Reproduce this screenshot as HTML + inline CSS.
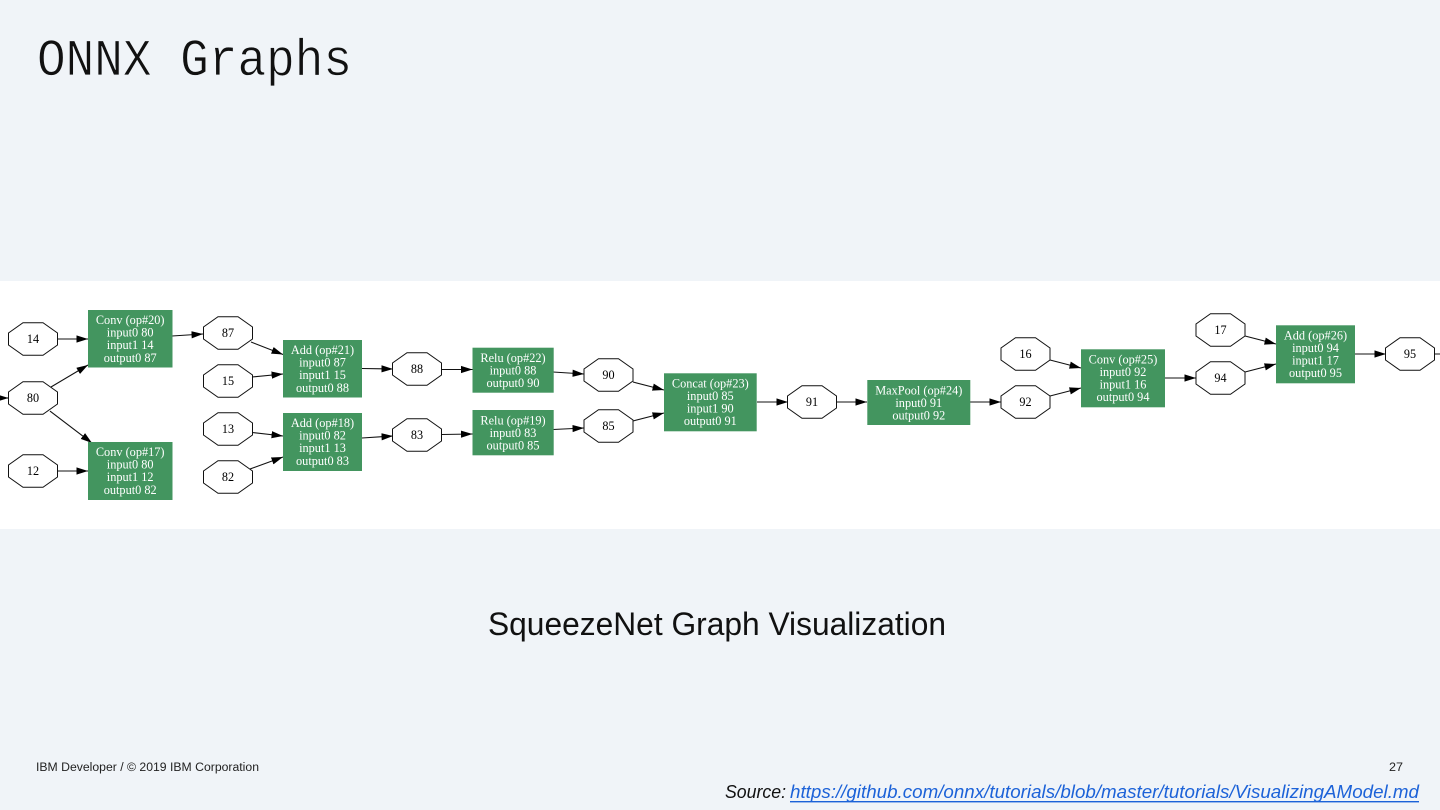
<!DOCTYPE html>
<html><head><meta charset="utf-8"><title>ONNX Graphs</title>
<style>
html,body{margin:0;padding:0;background:#f0f4f8;width:1440px;height:810px;overflow:hidden}
svg{display:block}
.n use{fill:#fff;stroke:#111;stroke-width:1}
.n text{font:12.2px "Liberation Serif",serif;fill:#000;text-anchor:middle}
.r rect{fill:#43955f}
.r text{font:12.3px "Liberation Serif",serif;fill:#fff;text-anchor:middle}
.e line{stroke:#111;stroke-width:1.1;marker-end:url(#a)}
.s{font-family:"Liberation Sans",sans-serif}
</style></head><body>
<svg width="1440" height="810" viewBox="0 0 1440 810" xmlns="http://www.w3.org/2000/svg">
<defs>
<marker id="a" markerUnits="userSpaceOnUse" markerWidth="13" markerHeight="9" refX="11.5" refY="4" orient="auto"><path d="M0 0.4L11.5 4L0 7.6Z" fill="#000"/></marker>
<polygon id="o" points="-10,-16.3 10,-16.3 24.5,-6 24.5,6 10,16.3 -10,16.3 -24.5,6 -24.5,-6"/>
</defs>
<rect width="1440" height="810" fill="#f0f4f8"/>
<rect y="281" width="1440" height="248" fill="#fff"/>
<text x="37" y="75" font-family="Liberation Mono" font-size="52" fill="#111" stroke="#f0f4f8" stroke-width="0.7" textLength="315" lengthAdjust="spacingAndGlyphs">ONNX Graphs</text>
<text class="s" x="488" y="635" font-size="32" fill="#111" textLength="458" lengthAdjust="spacingAndGlyphs">SqueezeNet Graph Visualization</text>
<text class="s" x="36" y="771" font-size="11.5" fill="#222" textLength="223" lengthAdjust="spacingAndGlyphs">IBM Developer / © 2019 IBM Corporation</text>
<text class="s" x="1389" y="771" font-size="11.5" fill="#222" textLength="14" lengthAdjust="spacingAndGlyphs">27</text>
<text class="s" x="725" y="798" font-size="18" font-style="italic" fill="#111" textLength="61" lengthAdjust="spacingAndGlyphs">Source:</text>
<text class="s" x="790" y="798" font-size="18" font-style="italic" fill="#1c62d8" textLength="629" lengthAdjust="spacingAndGlyphs">https://github.com/onnx/tutorials/blob/master/tutorials/VisualizingAModel.md</text>
<rect x="790" y="801" width="629" height="1.4" fill="#1c62d8"/>

<g class="e">
<line x1="0" y1="398" x2="8.5" y2="398"/>
<line x1="57" y1="339" x2="88" y2="339"/>
<line x1="51" y1="387" x2="88" y2="365"/>
<line x1="50" y1="411" x2="92" y2="443"/>
<line x1="57" y1="471" x2="88" y2="471"/>
<line x1="172" y1="336" x2="203" y2="334"/>
<line x1="251" y1="342" x2="283" y2="354.5"/>
<line x1="252" y1="377" x2="283" y2="374"/>
<line x1="252" y1="432.5" x2="283" y2="436"/>
<line x1="250" y1="469" x2="283" y2="457"/>
<line x1="362" y1="368.5" x2="393" y2="369"/>
<line x1="362" y1="438" x2="393" y2="436"/>
<line x1="442" y1="369.5" x2="472.5" y2="369.5"/>
<line x1="442" y1="434.5" x2="472.5" y2="434"/>
<line x1="553" y1="372" x2="584" y2="374"/>
<line x1="553" y1="429.5" x2="584" y2="428"/>
<line x1="633" y1="382" x2="664" y2="390"/>
<line x1="633" y1="421" x2="664" y2="413"/>
<line x1="757" y1="402" x2="788" y2="402"/>
<line x1="836" y1="402" x2="867" y2="402"/>
<line x1="970" y1="402" x2="1001" y2="402"/>
<line x1="1050" y1="360" x2="1081" y2="368"/>
<line x1="1050" y1="396" x2="1081" y2="388"/>
<line x1="1165" y1="378" x2="1196" y2="378"/>
<line x1="1245" y1="372" x2="1276" y2="364"/>
<line x1="1245" y1="336" x2="1276" y2="344"/>
<line x1="1355" y1="354" x2="1386" y2="354"/>
<line x1="1434" y1="354" x2="1452" y2="354"/>
</g>

<g class="n">
<use href="#o" x="33" y="339"/><text x="33" y="343">14</text>
<use href="#o" x="33" y="398"/><text x="33" y="402">80</text>
<use href="#o" x="33" y="471"/><text x="33" y="475">12</text>
<use href="#o" x="228" y="333"/><text x="228" y="337">87</text>
<use href="#o" x="228" y="381"/><text x="228" y="385">15</text>
<use href="#o" x="228" y="429"/><text x="228" y="433">13</text>
<use href="#o" x="228" y="477"/><text x="228" y="481">82</text>
<use href="#o" x="417" y="369"/><text x="417" y="373">88</text>
<use href="#o" x="417" y="435"/><text x="417" y="439">83</text>
<use href="#o" x="608.5" y="375"/><text x="608.5" y="379">90</text>
<use href="#o" x="608.5" y="426"/><text x="608.5" y="430">85</text>
<use href="#o" x="812" y="402"/><text x="812" y="406">91</text>
<use href="#o" x="1025.5" y="354"/><text x="1025.5" y="358">16</text>
<use href="#o" x="1025.5" y="402"/><text x="1025.5" y="406">92</text>
<use href="#o" x="1220.5" y="330"/><text x="1220.5" y="334">17</text>
<use href="#o" x="1220.5" y="378"/><text x="1220.5" y="382">94</text>
<use href="#o" x="1410" y="354"/><text x="1410" y="358">95</text>
</g>

<g class="r">
<rect x="88" y="310" width="84.5" height="57.5"/>
<text x="130.2" y="324">Conv (op#20)</text><text x="130.2" y="336.6">input0 80</text><text x="130.2" y="349.2">input1 14</text><text x="130.2" y="361.8">output0 87</text>
<rect x="88" y="442" width="84.5" height="58"/>
<text x="130.2" y="456">Conv (op#17)</text><text x="130.2" y="468.6">input0 80</text><text x="130.2" y="481.2">input1 12</text><text x="130.2" y="493.8">output0 82</text>
<rect x="283" y="340" width="79" height="57.5"/>
<text x="322.5" y="354">Add (op#21)</text><text x="322.5" y="366.6">input0 87</text><text x="322.5" y="379.2">input1 15</text><text x="322.5" y="391.8">output0 88</text>
<rect x="283" y="413" width="79" height="58"/>
<text x="322.5" y="427">Add (op#18)</text><text x="322.5" y="439.6">input0 82</text><text x="322.5" y="452.2">input1 13</text><text x="322.5" y="464.8">output0 83</text>
<rect x="472.5" y="347.7" width="81.2" height="45"/>
<text x="513" y="362">Relu (op#22)</text><text x="513" y="374.5">input0 88</text><text x="513" y="387">output0 90</text>
<rect x="472.5" y="410" width="81.2" height="45.3"/>
<text x="513" y="424.3">Relu (op#19)</text><text x="513" y="436.8">input0 83</text><text x="513" y="449.3">output0 85</text>
<rect x="664" y="373.3" width="92.7" height="58"/>
<text x="710.3" y="387.3">Concat (op#23)</text><text x="710.3" y="399.9">input0 85</text><text x="710.3" y="412.5">input1 90</text><text x="710.3" y="425.1">output0 91</text>
<rect x="867.3" y="380" width="103" height="45"/>
<text x="918.8" y="394.3">MaxPool (op#24)</text><text x="918.8" y="406.8">input0 91</text><text x="918.8" y="419.3">output0 92</text>
<rect x="1081" y="349.3" width="84" height="58"/>
<text x="1123" y="363.3">Conv (op#25)</text><text x="1123" y="375.9">input0 92</text><text x="1123" y="388.5">input1 16</text><text x="1123" y="401.1">output0 94</text>
<rect x="1276" y="325.3" width="79" height="58"/>
<text x="1315.5" y="339.3">Add (op#26)</text><text x="1315.5" y="351.9">input0 94</text><text x="1315.5" y="364.5">input1 17</text><text x="1315.5" y="377.1">output0 95</text>
</g>
</svg>
</body></html>
